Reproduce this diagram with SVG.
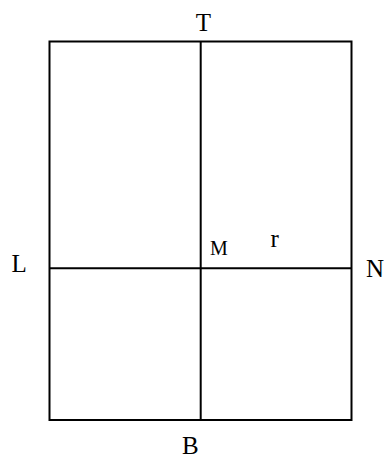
<svg xmlns="http://www.w3.org/2000/svg" width="384" height="459" viewBox="0 0 384 459">
<style>
.ln{stroke:#000;stroke-width:2;fill:none}
.lb{font-family:"Liberation Serif","Times New Roman",serif;font-size:25px;fill:#000}
</style>
<rect width="384" height="459" fill="#fff"/>
<g id="connectors">
<rect class="ln" x="49.5" y="41.5" width="302" height="378.5"/>
<line class="ln" x1="200.7" y1="41.5" x2="200.7" y2="420"/>
<line class="ln" x1="49.5" y1="268.3" x2="351.5" y2="268.3"/>
</g>
<g id="T"><text class="lb" x="203.3" y="31" text-anchor="middle">T</text></g>
<g id="L"><text class="lb" x="11.5" y="272">L</text></g>
<g id="N"><text class="lb" x="366" y="277">N</text></g>
<g id="B"><text class="lb" x="182" y="453.5">B</text></g>
<g id="M"><text class="lb" x="210" y="255" style="font-size:20px">M</text></g>
<g id="r"><text class="lb" x="270.5" y="246.7">r</text></g>
</svg>
